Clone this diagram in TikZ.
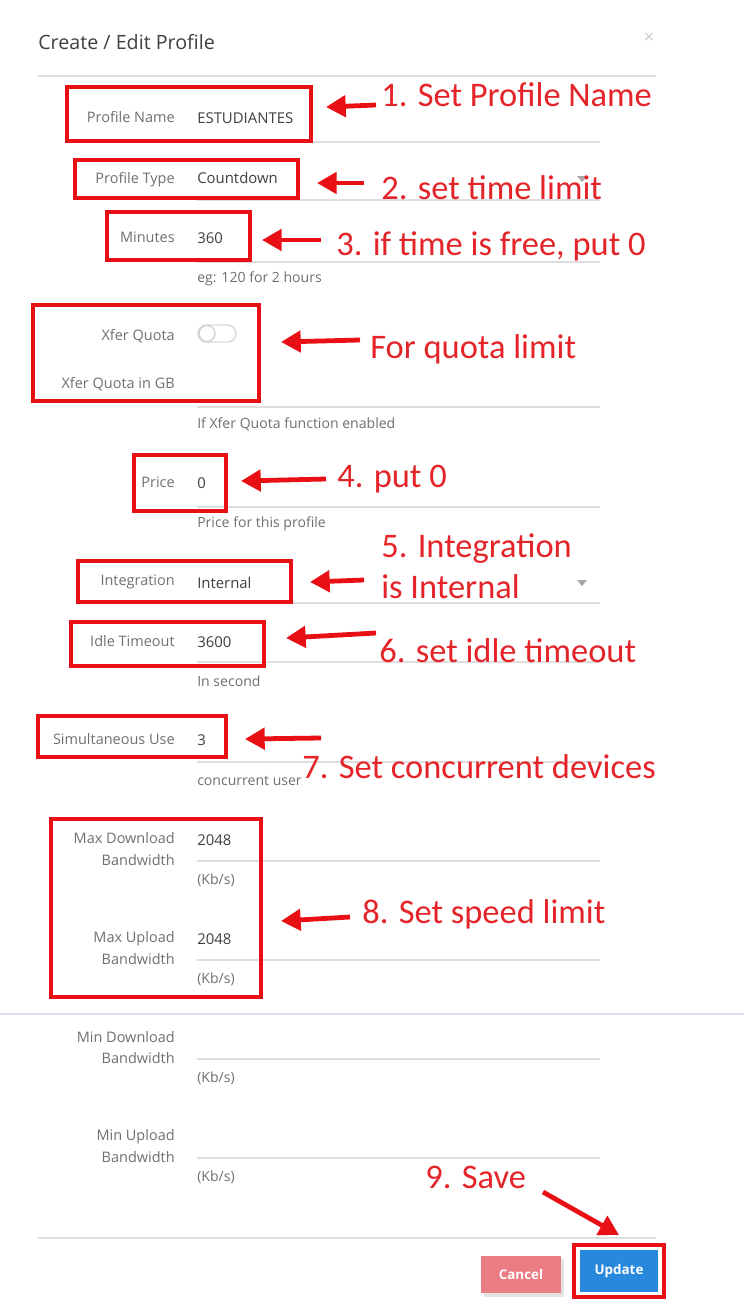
\documentclass[tikz,border=0pt]{standalone}
\usepackage{fontspec}
\setmainfont{Open Sans}
\newfontfamily\notefont{Carlito}
\usetikzlibrary{arrows.meta}
\definecolor{markred}{RGB}{232,16,20}
\definecolor{notered}{RGB}{228,36,40}
\definecolor{lblgray}{RGB}{112,112,112}
\definecolor{valgray}{RGB}{64,64,64}
\definecolor{rulegray}{RGB}{222,222,222}
\definecolor{sepgray}{RGB}{220,220,234}
\definecolor{cancelred}{RGB}{236,124,132}
\definecolor{updateblue}{RGB}{40,136,222}
\newcommand\lblx{175}
\newcommand\valx{197}
\newcommand\rulex{600}

\begin{document}
\begin{tikzpicture}[x=0.025cm, y=-0.025cm,
    lbl/.style={anchor=base east, inner sep=0pt, text=lblgray, font=\fontsize{10.3}{12}\selectfont},
    val/.style={anchor=base west, inner sep=0pt, text=valgray, font=\fontsize{10.6}{12}\selectfont},
    hint/.style={anchor=base west, inner sep=0pt, text=lblgray, font=\fontsize{10}{12}\selectfont},
    field/.style={draw=rulegray, line width=1.2pt},
    redbox/.style={draw=markred, line width=2.8pt},
    note/.style={anchor=base west, inner sep=0pt, text=notered, font=\notefont\fontsize{24.5}{28}\selectfont},
    pointer/.style={draw=markred, line width=3.4pt, -{Triangle[length=14pt,width=15pt]}},
    button/.style={minimum width=2cm, minimum height=0.925cm, text=white, font=\bfseries\fontsize{9.5}{11}\selectfont}]

    \fill[white] (0,0) rectangle (744,1316);
    \useasboundingbox (0,0) rectangle (744,1316);

    % Title
    \node at (38,49) [anchor=base west, inner sep=0pt, text=valgray, font=\fontsize{14}{17}\selectfont] (title) {Create / Edit Profile};
    \node at (649,38) [text=gray!40, font=\fontsize{13}{15}\selectfont] (close) {×};
    \draw[field] (38,76) -- (656,76);

    % Profile name
    \node at (\lblx,122) [lbl] (pname) {Profile Name};
    \node at (\valx,123) [val] (pnamev) {ESTUDIANTES};
    \draw[field] (\valx,142) -- (\rulex,142);
    \draw[redbox] (67,87) rectangle (311,141);
    \node at (381,106) [note] (n1) {1. Set Profile Name};
    \coordinate (a1) at (376,105);
    \coordinate (t1) at (326,107);
    \draw[pointer] (a1) -- (t1);

    % Profile type
    \node at (\lblx,183) [lbl] (ptype) {Profile Type};
    \node at (\valx,183) [val] (ptypev) {Countdown};
    \draw[field] (\valx,200) -- (\rulex,200);
    \fill[gray!70] (577,176) -- (587,176) -- (582,182) -- cycle;
    \draw[redbox] (75,160) rectangle (298,198);
    \node at (381,199) [note] (n2) {2. set time limit};
    \coordinate (a2) at (364,183);
    \coordinate (t2) at (317,183);
    \draw[pointer] (a2) -- (t2);

    % Minutes
    \node at (\lblx,242) [lbl] (mins) {Minutes};
    \node at (\valx,243) [val] (minsv) {360};
    \draw[field] (\valx,262) -- (\rulex,262);
    \node at (\valx,282) [hint] (minsh) {eg: 120 for 2 hours};
    \draw[redbox] (107,212) rectangle (250,260);
    \node at (336,255) [note] (n3) {3. if time is free, put 0};
    \coordinate (a3) at (321,240);
    \coordinate (t3) at (262,240);
    \draw[pointer] (a3) -- (t3);

    % Xfer quota
    \node at (\lblx,340) [lbl] (xq) {Xfer Quota};
    \draw[gray!30, line width=1pt, rounded corners=0.21cm] (198,325) rectangle (236,342);
    \draw[gray!35, line width=1pt, fill=white] (207,333.5) circle [radius=8];
    \node at (\lblx,388) [lbl] (xqgb) {Xfer Quota in GB};
    \draw[field] (\valx,407) -- (\rulex,407);
    \node at (\valx,428) [hint] (xqh) {If Xfer Quota function enabled};
    \draw[redbox] (33,305) rectangle (259,401);
    \node at (370,358) [note] (n4) {For quota limit};
    \coordinate (a4) at (360,340);
    \coordinate (t4) at (281,342);
    \draw[pointer] (a4) -- (t4);

    % Price
    \node at (\lblx,487) [lbl] (price) {Price};
    \node at (\valx,488) [val] (pricev) {0};
    \draw[field] (\valx,507) -- (\rulex,507);
    \node at (\valx,527) [hint] (priceh) {Price for this profile};
    \draw[redbox] (134,455) rectangle (226,511);
    \node at (337,487) [note] (n5) {4. put 0};
    \coordinate (a5) at (326,479);
    \coordinate (t5) at (241,481);
    \draw[pointer] (a5) -- (t5);

    % Integration
    \node at (\lblx,585) [lbl] (integ) {Integration};
    \node at (\valx,588) [val] (integv) {Internal};
    \draw[field] (\valx,603) -- (\rulex,603);
    \fill[gray!70] (577,580) -- (587,580) -- (582,586) -- cycle;
    \draw[redbox] (78,561) rectangle (291,602);
    \node at (381,557) [note] (n6) {5. Integration};
    \node at (381,598) [note] (n6b) {is Internal};
    \coordinate (a6) at (364,580);
    \coordinate (t6) at (310,582);
    \draw[pointer] (a6) -- (t6);

    % Idle timeout
    \node at (\lblx,646) [lbl] (idle) {Idle Timeout};
    \node at (\valx,647) [val] (idlev) {3600};
    \draw[field] (\valx,662) -- (\rulex,662);
    \node at (\valx,686) [hint] (idleh) {In second};
    \draw[redbox] (71,622) rectangle (264,666);
    \node at (379,662) [note] (n7) {6. set idle timeout};
    \coordinate (a7) at (376,633);
    \coordinate (t7) at (286,638);
    \draw[pointer] (a7) -- (t7);

    % Simultaneous use
    \node at (\lblx,744) [lbl] (simu) {Simultaneous Use};
    \node at (\valx,745) [val] (simuv) {3};
    \draw[field] (\valx,762) -- (\rulex,762);
    \node at (\valx,785) [hint] (simuh) {concurrent user};
    \draw[redbox] (38,716) rectangle (226,757);
    \node at (302,778) [note] (n8) {7. Set concurrent devices};
    \coordinate (a8) at (321,738);
    \coordinate (t8) at (245,739);
    \draw[pointer] (a8) -- (t8);

    % Max bandwidth
    \node at (\lblx,843) [lbl] (maxd) {Max Download};
    \node at (\lblx,865) [lbl] (maxdb) {Bandwidth};
    \node at (\valx,845) [val] (maxdv) {2048};
    \draw[field] (\valx,861) -- (\rulex,861);
    \node at (\valx,884) [hint] (maxdh) {(Kb/s)};
    \node at (\lblx,942) [lbl] (maxu) {Max Upload};
    \node at (\lblx,964) [lbl] (maxub) {Bandwidth};
    \node at (\valx,944) [val] (maxuv) {2048};
    \draw[field] (\valx,960) -- (\rulex,960);
    \node at (\valx,983) [hint] (maxuh) {(Kb/s)};
    \draw[redbox] (51,819) rectangle (261,997);
    \node at (362,923) [note] (n9) {8. Set speed limit};
    \coordinate (a9) at (350,917);
    \coordinate (t9) at (281,921);
    \draw[pointer] (a9) -- (t9);

    \draw[draw=sepgray, line width=2pt] (0,1014) -- (744,1014);

    % Min bandwidth
    \node at (\lblx,1042) [lbl] (mind) {Min Download};
    \node at (\lblx,1063) [lbl] (mindb) {Bandwidth};
    \draw[field] (\valx,1059) -- (\rulex,1059);
    \node at (\valx,1082) [hint] (mindh) {(Kb/s)};
    \node at (\lblx,1140) [lbl] (minu) {Min Upload};
    \node at (\lblx,1162) [lbl] (minub) {Bandwidth};
    \draw[field] (\valx,1158) -- (\rulex,1158);
    \node at (\valx,1181) [hint] (minuh) {(Kb/s)};

    % Footer
    \draw[field] (38,1238) -- (656,1238);
    \fill[gray!22] (484,1259) rectangle (564,1297);
    \node at (521,1274) [button, fill=cancelred] (cancel) {Cancel};
    \node at (619,1271) [button, fill=updateblue, minimum width=1.95cm, minimum height=1.05cm] (update) {Update};
    \draw[redbox] (574,1245) rectangle (664,1297);
    \node at (425,1188) [note] (n10) {9. Save};
    \coordinate (a10) at (543,1192);
    \coordinate (t10) at (619,1235);
    \draw[pointer] (a10) -- (t10);

\end{tikzpicture}
\end{document}
